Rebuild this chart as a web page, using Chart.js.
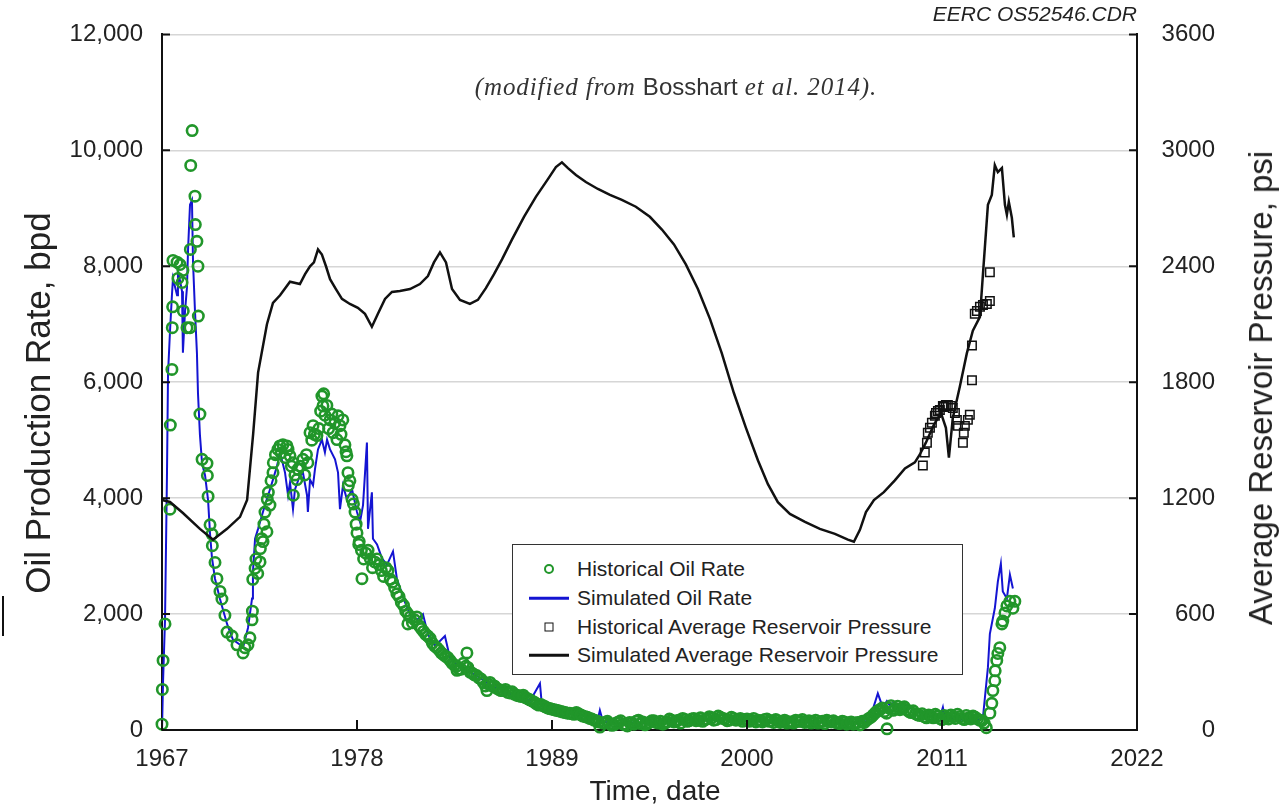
<!DOCTYPE html>
<html>
<head>
<meta charset="utf-8">
<script src="https://cdn.jsdelivr.net/npm/chart.js@4.4.1/dist/chart.umd.min.js"></script>
<style>
  html, body { margin: 0; padding: 0; background: #fff; }
  #wrap { position: relative; width: 1279px; height: 807px; overflow: hidden; font-family: "Liberation Sans", Arial, sans-serif; color: #222; }
  #c { position: absolute; left: 0; top: 0; }
  .abs { position: absolute; white-space: nowrap; }
  .rot { transform: translate(-50%, -50%) rotate(-90deg); }
  .ctr { transform: translate(-50%, -50%); }
  #legend { position: absolute; left: 512px; top: 544px; width: 449px; height: 129px; border: 1.5px solid #333; background: #fff; }
  .row { position: absolute; left: 0; height: 28px; width: 100%; }
  .row span.t { position: absolute; left: 64px; top: 50%; transform: translateY(-50%); font-size: 21px; color: #222; }
  .mk { position: absolute; left: 36px; top: 50%; transform: translate(-50%, -50%); box-sizing: border-box; }
</style>
</head>
<body>
<div id="wrap">
  <canvas id="c" width="1279" height="807"></canvas>
  <div class="abs" style="right:142px; top:2px; font-size:21px; font-style:italic; color:#222;">EERC OS52546.CDR</div>
  <div class="abs ctr" style="left:676px; top:87px; font-family:'Liberation Serif','Times New Roman',serif; font-style:italic; font-size:25px; letter-spacing:0.9px; color:#333;">(modified from <span style="font-family:'Liberation Sans',Arial,sans-serif; font-style:normal; font-size:24px; letter-spacing:0;">Bosshart</span> et al. 2014).</div>
  <div class="abs rot" style="left:38px; top:403px; font-size:35px;">Oil Production Rate, bpd</div>
  <div class="abs rot" style="left:1261px; top:388px; font-size:33px;">Average Reservoir Pressure, psi</div>
  <div class="abs ctr" style="left:655px; top:791px; font-size:28px;">Time, date</div>
  <div class="abs" style="left:2px; top:596px; width:2px; height:40px; background:#111;"></div>
  <div id="legend">
    <div class="row" style="top:10px;"><div class="mk" style="width:10px;height:10px;border:2.5px solid #21962a;border-radius:50%;"></div><span class="t">Historical Oil Rate</span></div>
    <div class="row" style="top:39px;"><div class="mk" style="width:40px;height:2.5px;background:#1414d2;"></div><span class="t">Simulated Oil Rate</span></div>
    <div class="row" style="top:68px;"><div class="mk" style="width:9px;height:9px;border:1.5px solid #111;"></div><span class="t">Historical Average Reservoir Pressure</span></div>
    <div class="row" style="top:96px;"><div class="mk" style="width:40px;height:2.5px;background:#111;"></div><span class="t">Simulated Average Reservoir Pressure</span></div>
  </div>
</div>
<script>
// ---------------- DATA ----------------
const xTickYears = [1967, 1978, 1989, 2000, 2011, 2022];
const oilTicks = [0, 2000, 4000, 6000, 8000, 10000, 12000];
const pressureTicks = [0, 600, 1200, 1800, 2400, 3000, 3600];

// Historical oil rate (bpd) - main readings
const histOilYear = [
  1967.00,1967.02,1967.06,1967.17,1967.45,1967.47,1967.56,1967.58,1967.60,1967.62,1967.85,1967.90,
  1968.02,1968.13,1968.18,1968.20,1968.41,1968.58,1968.60,1968.62,1968.70,1968.86,1968.88,1968.97,
  1969.03,1969.05,1969.14,1969.26,1969.54,1969.56,1969.60,1969.71,1969.82,1969.84,1969.99,
  1970.10,1970.27,1970.38,1970.55,1970.67,1970.95,1971.23,1971.57,1971.68,1971.85,1971.96,
  1972.08,1972.10,1972.12,1972.25,1972.53,1972.55,1972.70,1972.81,1972.92,1972.94,
  1973.09,1973.26,1973.28,1973.54,1973.82,1974.11,1974.22,1974.39,1974.41,1974.61,1974.67,1974.95,
  1975.23,1975.35,1975.52,1975.74,1976.02,1976.08,1976.19,1976.48,1976.65,1976.87,1976.93,
  1977.04,1977.32,1977.43,1977.49,1977.51,1977.72,1977.89,
  1978.00,1978.25,1978.28,1978.50,1978.75,1979.00,1979.25,1979.50,1979.75,
  1980.00,1980.25,1980.50,1980.75,1980.87,1981.00,1981.25,1981.50,1981.75,
  1982.00,1982.25,1982.50,1982.75,1983.00,1983.25,1983.50,1983.64,1983.75,
  1984.00,1984.20,1984.25,1984.50,1984.75,1985.00,1985.25,1985.33,1985.50,1985.75,
  1986.00,1986.25,1986.50,1986.75,1987.00,1987.25,1987.50,1987.75,
  1988.00,1988.25,1988.50,1988.75,1989.00,1989.25,1989.50,1989.75,
  1990.00,1990.25,1990.50,1990.75,1991.00,1991.25,1991.50,1991.70,
  1992.00,1992.25,1992.50,1992.75,1993.00,1993.25,1993.50,1993.75,
  1994.00,1994.25,1994.50,1994.75,1995.00,1995.25,1995.50,1995.75,
  1996.00,1996.25,1996.50,1996.75,1997.00,1997.25,1997.50,1997.75,
  1998.00,1998.25,1998.50,1998.75,1999.00,1999.25,1999.50,1999.75,
  2000.00,2000.25,2000.50,2000.75,2001.00,2001.25,2001.50,2001.75,
  2002.00,2002.25,2002.50,2002.75,2003.00,2003.25,2003.50,2003.75,
  2004.00,2004.25,2004.50,2004.75,2005.00,2005.25,2005.50,2005.75,
  2006.00,2006.25,2006.50,2006.75,2007.00,2007.25,2007.50,2007.75,2007.90,
  2008.00,2008.25,2008.50,2008.75,2009.00,2009.25,2009.50,2009.75,
  2010.00,2010.25,2010.50,2010.75,2011.00,2011.25,2011.50,2011.75,
  2012.00,2012.25,2012.50,2012.75,2013.00,2013.25,2013.50,
  2013.70,2013.81,2013.87,2013.98,2014.00,2014.09,2014.15,2014.26,2014.38,2014.43,2014.55,2014.66,2014.83,2015.00,2015.11
];
const histOilRate = [
  100,700,1200,1830,3810,5260,6220,6940,7300,8100,8070,7790,
  8030,7720,7930,7230,6940,6940,8290,9740,10340,9210,8720,8430,
  8000,7140,5450,4670,4600,4390,4030,3540,3380,3180,2890,
  2610,2390,2260,1980,1690,1620,1470,1330,1420,1470,1590,
  1900,2050,2600,2790,2900,3130,3250,3760,3420,3980,
  3880,4440,4610,4840,4920,4840,4730,4610,4050,4320,4500,4670,
  4610,5130,5250,5080,5760,5590,5430,5350,5130,5010,5420,
  5250,4920,4730,4440,4220,3980,3760,
  3400,3100,2610,3050,2950,2900,2850,2650,2750,
  2550,2350,2200,2050,1830,1950,1900,1800,1700,
  1620,1500,1420,1330,1270,1200,1120,1030,1050,
  1150,1330,1080,980,940,880,760,680,820,760,
  700,680,650,660,600,580,560,520,
  480,430,420,380,360,340,320,300,
  290,270,280,240,220,190,160,50,
  130,110,90,140,100,70,120,150,
  110,90,130,160,120,100,140,170,
  150,120,180,160,200,170,150,190,
  210,180,220,190,170,200,180,150,
  190,170,140,160,180,150,130,160,
  150,120,140,170,150,130,160,140,
  120,150,170,140,130,110,140,120,
  100,130,150,170,220,300,350,320,20,
  380,340,410,380,350,300,280,250,
  230,260,210,240,180,220,260,200,
  230,180,210,240,190,160,40,
  290,460,680,850,1020,1200,1320,1420,1830,1880,2020,2140,2220,2100,2220
];
// Historical oil rate (bpd) - in-between months
const histOilYearB = [
  1972.30,1972.40,1972.62,1972.75,1973.00,1973.15,1973.40,1973.65,1973.72,1973.95,1974.05,1974.30,
  1974.50,1974.80,1975.05,1975.15,1975.45,1975.60,1975.85,1975.95,1976.12,1976.30,1976.40,1976.58,
  1976.75,1977.10,1977.20,1977.38,1977.60,1977.80,1977.95,1978.10,
  1978.125,1978.375,1978.625,1978.875,1979.125,1979.375,1979.625,1979.875,
  1980.125,1980.375,1980.625,1980.875,1981.125,1981.375,1981.625,1981.875,
  1982.125,1982.375,1982.625,1982.875,1983.125,1983.375,1983.625,1983.875,
  1984.125,1984.375,1984.625,1984.875,1985.125,1985.375,1985.625,1985.875,
  1986.125,1986.375,1986.625,1986.875,1987.125,1987.375,1987.625,1987.875,
  1988.125,1988.375,1988.625,1988.875,1989.125,1989.375,1989.625,1989.875,
  1990.125,1990.375,1990.625,1990.875,1991.125,1991.375,1991.625,1991.875,
  1992.125,1992.375,1992.625,1992.875,1993.125,1993.375,1993.625,1993.875,
  1994.125,1994.375,1994.625,1994.875,1995.125,1995.375,1995.625,1995.875,
  1996.125,1996.375,1996.625,1996.875,1997.125,1997.375,1997.625,1997.875,
  1998.125,1998.375,1998.625,1998.875,1999.125,1999.375,1999.625,1999.875,
  2000.125,2000.375,2000.625,2000.875,2001.125,2001.375,2001.625,2001.875,
  2002.125,2002.375,2002.625,2002.875,2003.125,2003.375,2003.625,2003.875,
  2004.125,2004.375,2004.625,2004.875,2005.125,2005.375,2005.625,2005.875,
  2006.125,2006.375,2006.625,2006.875,2007.125,2007.375,2007.625,2007.875,
  2008.125,2008.375,2008.625,2008.875,2009.125,2009.375,2009.625,2009.875,
  2010.125,2010.375,2010.625,2010.875,2011.125,2011.375,2011.625,2011.875,
  2012.125,2012.375,2012.625,2012.875,2013.125,2013.375
];
const histOilRateB = [
  2950,2700,3300,3550,4100,4300,4750,4900,4780,4700,4900,4550,
  4400,4550,4400,4750,5000,5100,5200,5500,5800,5600,5200,5450,
  5300,5100,5350,4800,4300,3900,3550,3200,
  3250,2950,3100,2800,2950,2750,2800,2600,
  2450,2300,2150,2000,1850,1950,1750,1650,
  1580,1450,1380,1300,1250,1150,1100,1050,
  1100,1000,950,900,820,800,760,720,
  680,700,640,620,590,600,540,500,
  450,440,400,370,350,330,310,290,
  280,300,260,230,200,170,140,120,
  150,80,120,160,90,130,100,170,
  140,110,160,130,150,120,190,140,
  170,200,150,190,160,210,180,230,
  170,240,200,160,220,170,200,180,
  150,200,170,140,190,160,180,130,
  170,140,120,150,180,140,120,170,
  140,110,150,160,120,150,100,140,
  120,90,130,200,260,330,380,290,
  420,370,350,400,320,330,260,280,
  210,240,270,200,250,190,230,270,
  200,250,190,220,170,120
];

// Simulated oil rate (bpd)
const simOilYear = [
  1967.00,1967.06,1967.17,1967.28,1967.34,1967.45,1967.56,1967.62,1967.85,1967.90,
  1968.13,1968.18,1968.30,1968.41,1968.47,1968.58,1968.69,1968.75,1968.86,1968.97,
  1969.03,1969.14,1969.26,1969.43,1969.60,1969.71,1969.82,1969.99,1970.27,1970.67,1971.00,1971.40,
  1971.57,1971.85,1972.08,1972.13,1972.25,1972.42,1972.53,1972.81,1973.09,1973.26,1973.49,1973.66,
  1973.94,1974.11,1974.22,1974.39,1974.50,1974.78,1974.95,1975.18,1975.23,1975.35,1975.52,1975.63,
  1975.80,1976.02,1976.19,1976.31,1976.48,1976.76,1976.93,1977.04,1977.21,1977.43,1977.72,
  1978.00,1978.17,1978.34,1978.56,1978.62,1978.84,1978.90,1979.13,1979.41,1979.69,1980.03,1980.25,
  1980.71,1980.99,1981.38,1981.72,1982.00,1982.40,1982.96,1983.24,1983.81,1984.37,1984.94,
  1985.50,1986.06,1986.63,1987.19,1987.76,1988.32,1988.43,1989.17,1990.01,1990.86,1991.59,1991.70,1991.87,
  1992.25,1993.00,1993.50,1994.00,1994.50,1995.00,1995.50,1996.00,1996.50,1997.00,1997.50,
  1998.00,1998.50,1999.00,1999.50,2000.00,2000.50,2001.00,2001.50,2002.00,2002.50,2003.00,
  2003.50,2004.00,2004.50,2005.00,2005.50,2006.00,2006.50,2006.71,
  2007.04,2007.38,2007.66,2007.89,2008.06,2008.29,2008.46,2008.79,2009.19,2009.75,2010.32,
  2010.88,2011.05,2011.16,2012.01,2012.85,2013.31,2013.59,2013.70,2013.98,2014.15,2014.32,
  2014.43,2014.66,2014.83,2015.00
];
const simOilRate = [
  0,840,1900,4390,6150,6870,7500,7790,7500,7930,
  7570,6510,7230,7640,8290,9060,9140,8070,7230,6510,
  5810,5090,4600,4390,3960,3380,2970,2610,2260,1830,1560,1470,
  1420,1760,2270,2730,3300,3470,3590,3880,4150,4320,4560,4790,
  4440,4050,4270,3810,4150,4390,4440,4050,3760,4320,4220,4500,
  4840,5010,4790,5010,4840,4670,4440,3810,4220,3980,4150,
  3760,3590,3880,4960,3470,4100,3300,3200,2960,2850,3080,2610,
  2200,2000,1900,2000,1650,1450,1620,1250,1080,1000,900,
  780,700,620,580,500,800,430,360,300,250,190,340,150,
  120,100,130,110,140,130,150,160,170,180,170,
  190,200,180,170,160,150,150,140,140,150,140,
  130,130,140,120,120,110,130,150,
  300,630,390,500,420,480,390,460,380,300,250,
  220,390,200,180,150,220,1080,1660,2100,2560,2870,
  2390,2270,2680,2440
];

// Simulated average reservoir pressure (psi)
const simPresYear = [
  1967.00,1967.45,1968.18,1969.14,1969.88,1970.67,1971.40,1971.80,1972.14,1972.42,1972.92,1973.26,
  1973.66,1974.22,1974.78,1975.07,1975.35,1975.57,1975.80,1976.02,1976.25,1976.48,1976.81,1977.15,
  1977.60,1978.05,1978.45,1978.84,1979.18,1979.58,1979.97,1980.42,1980.99,1981.55,1982.00,1982.34,
  1982.68,1983.02,1983.36,1983.81,1984.37,1984.82,1985.27,1985.73,1986.18,1986.74,1987.42,1988.09,
  1988.77,1989.22,1989.56,1989.90,1990.35,1990.91,1991.59,1992.27,1992.94,1993.73,1994.52,1995.20,
  1995.88,1996.55,1997.23,1997.91,1998.58,1999.26,1999.94,2000.62,2001.18,2001.74,2002.42,2003.27,
  2004.11,2004.96,2005.69,2006.03,2006.37,2006.71,2007.16,2007.72,2008.34,2008.91,2009.47,2009.75,
  2010.09,2010.54,2010.94,2011.22,2011.39,2011.61,2012.01,2012.40,2012.74,2013.14,2013.31,2013.59,
  2013.81,2013.98,2014.15,2014.38,2014.55,2014.66,2014.77,2014.94,2015.05
];
const simPres = [
  1190,1180,1123,1041,985,1041,1103,1190,1530,1850,2100,2210,
  2250,2320,2308,2359,2400,2420,2487,2461,2400,2333,2282,2231,
  2205,2185,2154,2087,2154,2231,2267,2272,2282,2308,2349,2420,
  2472,2420,2282,2226,2205,2226,2287,2359,2436,2538,2656,2759,
  2851,2913,2938,2908,2872,2836,2800,2769,2744,2708,2656,2590,
  2513,2410,2282,2128,1949,1744,1564,1395,1272,1179,1118,1077,
  1041,1015,985,974,1036,1128,1190,1231,1292,1354,1385,1426,
  1487,1579,1641,1564,1410,1615,1779,1949,2067,2138,2359,2718,
  2769,2923,2887,2908,2718,2667,2733,2651,2549
];

// Historical average reservoir pressure (psi)
const histPresYear = [
  2009.92,2010.03,2010.15,2010.20,2010.32,2010.43,2010.60,2010.66,2010.77,2010.88,2011.05,2011.11,
  2011.22,2011.33,2011.50,2011.61,2011.73,2011.84,2011.90,2012.18,2012.23,2012.29,2012.46,2012.57,
  2012.69,2012.69,2012.85,2012.97,2013.14,2013.31,2013.53,2013.70,2013.70
];
const histPres = [
  1369,1436,1487,1538,1564,1590,1626,1641,1651,1656,1677,1672,
  1682,1682,1677,1667,1641,1605,1574,1487,1538,1574,1605,1631,
  1810,1990,2154,2169,2190,2200,2205,2220,2369
];

// ---------------- CHART ----------------
const pts = (xs, ys) => xs.map((x, i) => ({ x: x, y: ys[i] }));
const FONT = '"Liberation Sans", Arial, sans-serif';

const inwardTicks = {
  id: 'inwardTicks',
  afterDraw(chart) {
    const { ctx, chartArea: a, scales } = chart;
    ctx.save();
    ctx.strokeStyle = '#111';
    ctx.lineWidth = 2;
    ctx.beginPath();
    scales.y.ticks.forEach(t => {
      const py = scales.y.getPixelForValue(t.value);
      ctx.moveTo(a.left, py); ctx.lineTo(a.left + 8, py);
    });
    scales.y2.ticks.forEach(t => {
      const py = scales.y2.getPixelForValue(t.value);
      ctx.moveTo(a.right, py); ctx.lineTo(a.right - 8, py);
    });
    scales.x.ticks.forEach(t => {
      const px = scales.x.getPixelForValue(t.value);
      ctx.moveTo(px, a.bottom); ctx.lineTo(px, a.bottom - 10);
    });
    ctx.stroke();
    ctx.restore();
  }
};

new Chart(document.getElementById('c'), {
  type: 'scatter',
  data: {
    datasets: [
      {
        label: 'Simulated Oil Rate', type: 'line', yAxisID: 'y', order: 4,
        data: pts(simOilYear, simOilRate),
        borderColor: '#1414d2', borderWidth: 2, pointRadius: 0, tension: 0, fill: false
      },
      {
        label: 'Historical Oil Rate', yAxisID: 'y', order: 3, clip: false,
        data: pts(histOilYear, histOilRate).concat(pts(histOilYearB, histOilRateB)),
        pointStyle: 'circle', pointRadius: 5.2, borderWidth: 2.6,
        borderColor: '#21962a', backgroundColor: 'rgba(0,0,0,0)'
      },
      {
        label: 'Simulated Average Reservoir Pressure', type: 'line', yAxisID: 'y2', order: 2,
        data: pts(simPresYear, simPres),
        borderColor: '#111', borderWidth: 2.5, pointRadius: 0, tension: 0, fill: false
      },
      {
        label: 'Historical Average Reservoir Pressure', yAxisID: 'y2', order: 1,
        data: pts(histPresYear, histPres),
        pointStyle: 'rect', pointRadius: 6, borderWidth: 1.5,
        borderColor: '#111', backgroundColor: 'rgba(0,0,0,0)'
      }
    ]
  },
  options: {
    responsive: false,
    animation: false,
    events: [],
    layout: { padding: { top: 30, left: 0, right: 64, bottom: 0 } },
    plugins: { legend: { display: false }, title: { display: false }, tooltip: { enabled: false } },
    scales: {
      x: {
        type: 'linear', position: 'bottom', min: 1967, max: 2022,
        afterBuildTicks: s => { s.ticks = xTickYears.map(v => ({ value: v })); },
        ticks: { font: { size: 24, family: FONT }, color: '#222', padding: 15, maxRotation: 0, autoSkip: false,
                 callback: v => String(v) },
        grid: { display: false, drawTicks: false },
        border: { display: true, color: '#111', width: 2 },
        afterFit: s => { s.height = 77; }
      },
      y: {
        position: 'left', min: 0, max: 12000,
        afterBuildTicks: s => { s.ticks = oilTicks.map(v => ({ value: v })); },
        ticks: { font: { size: 24, family: FONT }, color: '#222', padding: 19,
                 callback: v => Number(v).toLocaleString('en-US') },
        grid: { color: '#d6d6d6', lineWidth: 1.5, drawTicks: false },
        border: { display: true, color: '#111', width: 2 },
        afterFit: s => { s.width = 162; }
      },
      y2: {
        position: 'right', min: 0, max: 3600,
        afterBuildTicks: s => { s.ticks = pressureTicks.map(v => ({ value: v })); },
        ticks: { font: { size: 24, family: FONT }, color: '#222', padding: 20, crossAlign: 'far',
                 callback: v => String(v) },
        grid: { display: false, drawTicks: false },
        border: { display: true, color: '#111', width: 2 },
        afterFit: s => { s.width = 78; }
      }
    }
  },
  plugins: [inwardTicks]
});
</script>
</body>
</html>
